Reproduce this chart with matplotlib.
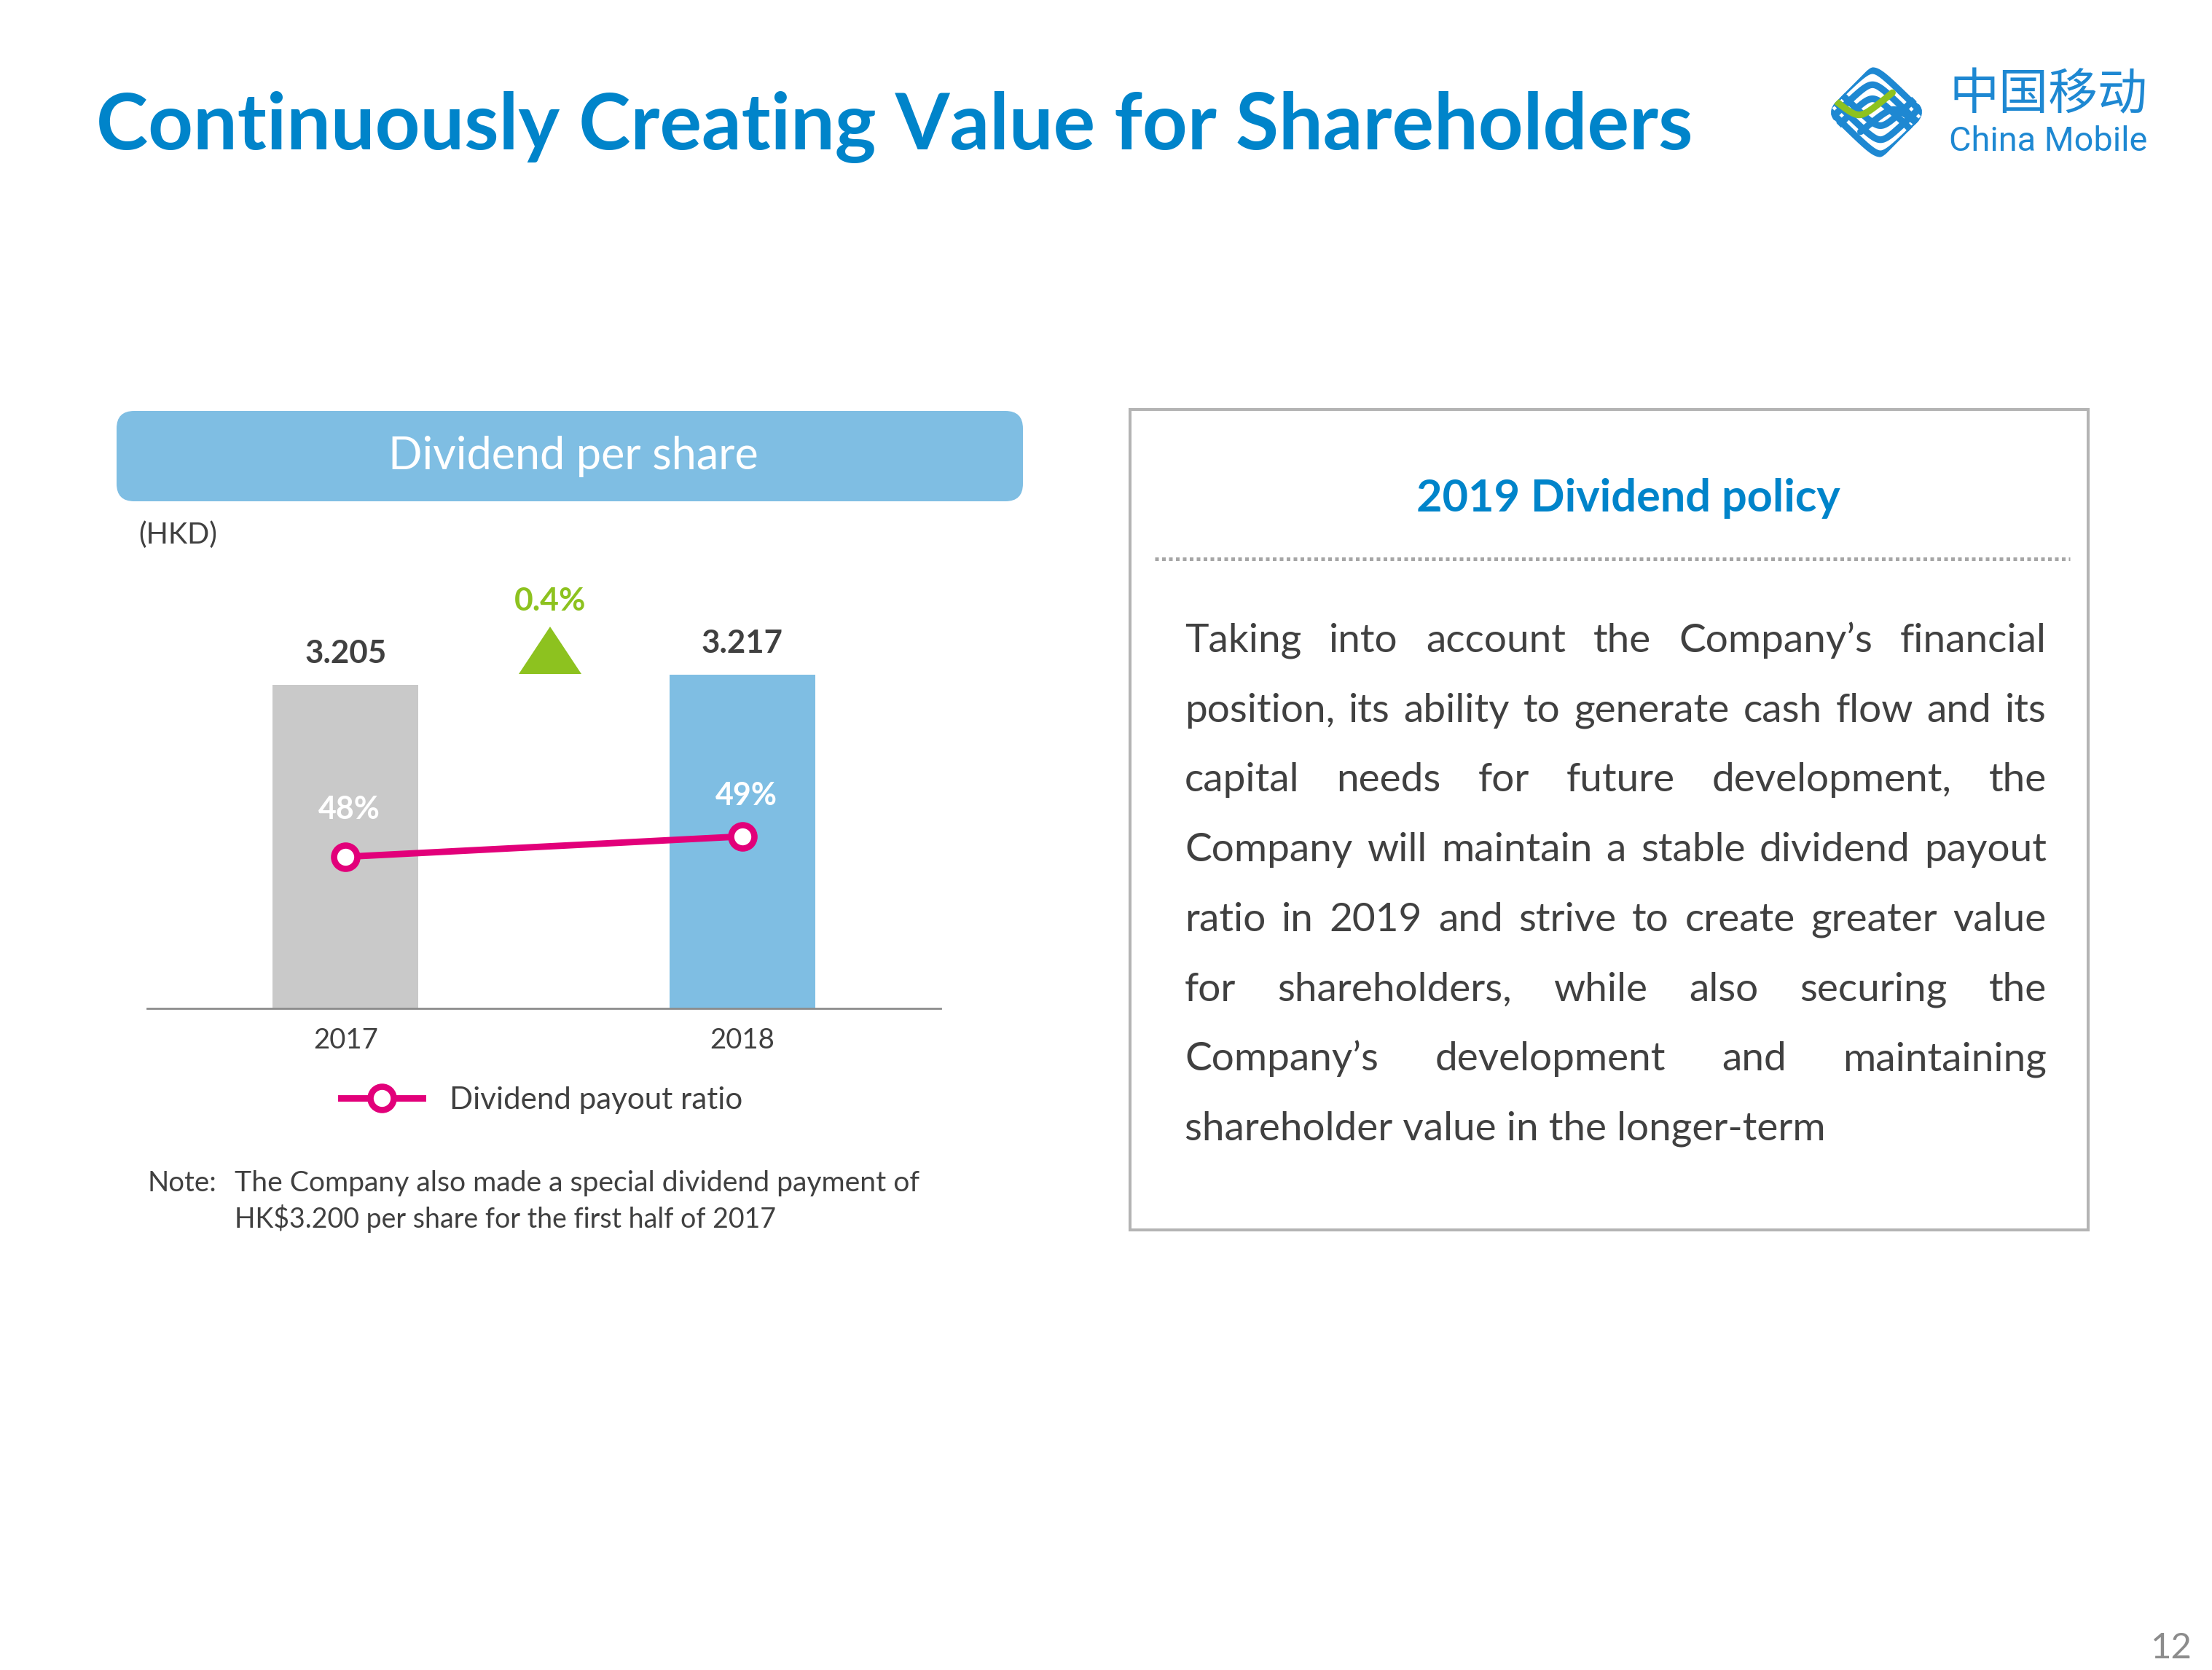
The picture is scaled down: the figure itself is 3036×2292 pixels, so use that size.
import matplotlib
matplotlib.use("Agg")
import matplotlib.pyplot as plt
import matplotlib.patches as mpatches
import numpy as np

# canvas in pixels (slide size)
W, H = 3036, 2292
DPI = 200

# ---- data ----
years = ["2017", "2018"]
dps = [3.205, 3.217]          # dividend per share, HKD
payout = [48, 49]             # dividend payout ratio, %
bar_colors = ["#C9C9C9", "#7FBEE3"]

title = "Continuously Creating Value for Shareholders"
panel_title = "Dividend per share"
unit_label = "(HKD)"
legend_label = "Dividend payout ratio"
note_head = "Note:"
note_lines = ["The Company also made a special dividend payment of",
              "HK$3.200 per share for the first half of 2017"]
policy_title = "2019 Dividend policy"
policy_lines = [
    "Taking into account the Company\u2019s financial",
    "position, its ability to generate cash flow and its",
    "capital needs for future development, the",
    "Company will maintain a stable dividend payout",
    "ratio in 2019 and strive to create greater value",
    "for shareholders, while also securing the",
    "Company\u2019s development and maintaining",
    "shareholder value in the longer-term",
]
page_no = "12"

BLUE = "#0084CA"
LIGHT = "#7FBEE3"
MAGENTA = "#E2007A"
GREEN = "#8DC21F"
TEXT = "#404040"

plt.rcParams['font.family'] = ['Lato', 'DejaVu Sans']

fig = plt.figure(figsize=(W / DPI, H / DPI), dpi=DPI)
fig.patch.set_facecolor('white')

# background axes in pixel units, y pointing down
bg = fig.add_axes([0, 0, 1, 1])
bg.set_xlim(0, W)
bg.set_ylim(H, 0)
bg.axis('off')
renderer = fig.canvas.get_renderer()


def size_for(s, width, **kw):
    # font size that makes string s about `width` pixels wide
    t = bg.text(0, 0, s, fontsize=20, **kw)
    w = t.get_window_extent(renderer).width
    t.remove()
    return 20 * width / w


def justify(line, x0, x1, y, **kw):
    words = line.split()
    ts = [bg.text(x0, y, w, va='baseline', **kw) for w in words]
    widths = [t.get_window_extent(renderer).width for t in ts]
    gap = (x1 - x0 - sum(widths)) / (len(words) - 1)
    x = x0
    for t, w in zip(ts, widths):
        t.set_x(x)
        x += w + gap


# ---- title ----
bg.text(132, 205, title, color=BLUE, fontweight='bold', va='baseline',
        fontsize=size_for(title, 2190, fontweight='bold'))

# ---- logo (rough sketch of the striped emblem) ----
lax = fig.add_axes([2507 / W, 1 - 223 / H, 137 / W, 138 / H])
lax.set_xlim(-1.0, 1.0)
lax.set_ylim(-1.0, 1.0)
lax.axis('off')
logo_blue = "#1E88D2"
clip = mpatches.FancyBboxPatch((-0.72, -0.72), 1.44, 1.44, boxstyle="round,pad=0,rounding_size=0.3",
                               transform=matplotlib.transforms.Affine2D().rotate_deg(45) + lax.transData,
                               fc='none', ec='none')
lax.add_patch(clip)


def sabs(u):
    return np.sqrt(u ** 2 + 0.03)


xs = np.linspace(-1.1, 1.1, 200)
stripes = []
for d in [0.02, 0.3, 0.58]:
    top = 1.02 - d - 1.0 * sabs(xs + 0.08)
    stripes.append((xs, top, logo_blue))
    stripes.append((-xs, -top, logo_blue))
xg = np.linspace(-1.1, 0.32, 100)
stripes.append((xg, -0.2 + 0.85 * sabs(xg + 0.35), GREEN))
stripes.append((-xg, 0.2 - 0.85 * sabs(xg + 0.35), logo_blue))
for sx, sy, c in stripes:
    ln, = lax.plot(sx, sy, color=c, lw=3.3, solid_capstyle='round')
    ln.set_clip_path(clip)

cn_kw = dict(family=['Noto Sans CJK SC', 'DejaVu Sans'], fontweight='medium')
bg.text(2675, 150, "中国移动", color=logo_blue, va='baseline',
        fontsize=size_for("中国移动", 272, **cn_kw), **cn_kw)
bg.text(2675, 207, "China Mobile", color=logo_blue, va='baseline', family='Roboto',
        fontsize=size_for("China Mobile", 272, family='Roboto'))

# ---- left panel header ----
bg.add_patch(mpatches.FancyBboxPatch((160, 564), 1244, 124,
                                     boxstyle="round,pad=0,rounding_size=24",
                                     fc=LIGHT, ec='none'))
bg.text(787, 644, panel_title, color='white', ha='center', va='baseline',
        fontsize=size_for(panel_title, 507))
bg.text(190, 746, unit_label, color=TEXT, va='baseline',
        fontsize=size_for(unit_label, 108))

# ---- chart ----
ax = fig.add_axes([202 / W, 1 - 1384 / H, (1291 - 202) / W, (1384 - 780) / H])
ax.patch.set_alpha(0)
x = np.arange(len(years))
ax.bar(x, dps, width=0.368, color=bar_colors, zorder=2)
ax.set_xlim(-0.5, 1.5)
ax.set_ylim(2.824, 3.342)
for side in ['left', 'right', 'top']:
    ax.spines[side].set_visible(False)
ax.spines['bottom'].set_color('#8C8C8C')
ax.spines['bottom'].set_linewidth(1.0)
ax.set_yticks([])
tick_fs = size_for("2017", 89)
ax.set_xticks(x, years)
ax.tick_params(axis='x', length=0, pad=19.8, labelsize=tick_fs, labelcolor=TEXT)
for lbl in ax.get_xticklabels():
    lbl.set_va('baseline')

val_fs = size_for("3.205", 112, fontweight='bold')
for xi, v in zip(x, dps):
    ax.annotate(f"{v:.3f}", (xi, v), xytext=(0, 10.6), textcoords='offset points',
                ha='center', va='baseline', fontweight='bold', color=TEXT, fontsize=val_fs)

ax2 = ax.twinx()
ax2.set_ylim(40.57, 62.14)
ax2.axis('off')
ax2.plot(x, payout, color=MAGENTA, lw=3.2, marker='o', ms=11.5, mfc='white',
         mec=MAGENTA, mew=3.1, zorder=3, clip_on=False, label=legend_label)
pct_fs = size_for("48%", 85, fontweight='bold')
pct_lift = [18.7, 15.5]
for xi, p, lift in zip(x, payout, pct_lift):
    ax2.annotate(f"{p}%", (xi, p), xytext=(2, lift), textcoords='offset points',
                 ha='center', va='baseline', fontweight='bold', color='white', fontsize=pct_fs)

# growth marker
growth = (dps[1] / dps[0] - 1) * 100
g_txt = f"{growth:.1f}%"
bg.text(755, 838, g_txt, color=GREEN, ha='center', va='baseline', fontweight='bold',
        fontsize=size_for(g_txt, 98, fontweight='bold'))
bg.add_patch(mpatches.Polygon([(712, 925), (798, 925), (755, 860)], closed=True,
                              fc=GREEN, ec='none'))

# legend
leg_fs = size_for(legend_label, 402)
ax2.legend(loc='center left', bbox_to_anchor=(468 / W, 1 - 1510 / H),
           bbox_transform=fig.transFigure, frameon=False, borderpad=0,
           borderaxespad=0, handlelength=40.3 / leg_fs, handletextpad=13.3 / leg_fs,
           fontsize=leg_fs, labelcolor=TEXT)

# note
bg.text(203, 1635, note_head, color=TEXT, va='baseline', fontsize=size_for(note_head, 95))
bg.text(322, 1635, note_lines[0], color=TEXT, va='baseline', fontsize=size_for(note_lines[0], 941))
bg.text(322, 1685, note_lines[1], color=TEXT, va='baseline', fontsize=size_for(note_lines[1], 742))

# ---- right panel ----
bg.add_patch(mpatches.Rectangle((1551, 562), 1315, 1126, fill=False,
                                ec='#B4B4B4', lw=1.45))
bg.text(2235, 702, policy_title, color=BLUE, ha='center', va='baseline', fontweight='bold',
        fontsize=size_for(policy_title, 580, fontweight='bold'))
bg.plot([1585, 2841], [767, 767], color='#A6A6A6', lw=1.8,
        linestyle=(0, (1, 0.9)), dash_capstyle='butt')

par_fs = size_for(policy_lines[-1], 880)
for i, line in enumerate(policy_lines):
    y = 895 + 95.7 * i
    if i < len(policy_lines) - 1:
        justify(line, 1626, 2809, y, color=TEXT, fontsize=par_fs)
    else:
        bg.text(1626, y, line, color=TEXT, va='baseline', fontsize=par_fs)

# page number
bg.text(2980, 2276, page_no, color='#8C8C8C', ha='center', va='baseline',
        fontsize=size_for(page_no, 57))

fig.savefig("out.png", dpi=DPI, facecolor='white')
